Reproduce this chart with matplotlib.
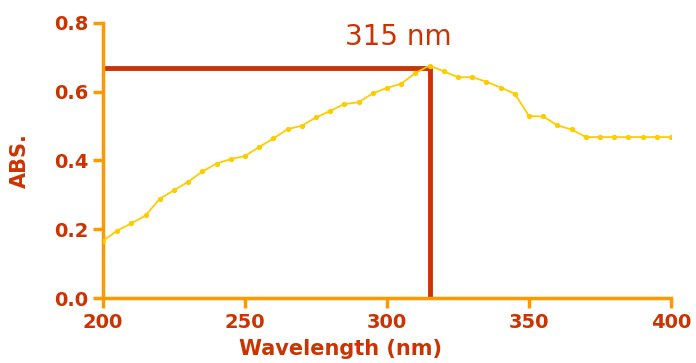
import numpy as np
import matplotlib
matplotlib.use("Agg")
import matplotlib.pyplot as plt

# absorbance spectrum, 5 nm steps
wavelength = list(range(200, 401, 5))
absorbance = [0.166, 0.196, 0.217, 0.240, 0.289, 0.313, 0.338, 0.368, 0.391, 0.404,
              0.413, 0.439, 0.464, 0.491, 0.501, 0.525, 0.544, 0.564, 0.569, 0.595,
              0.611, 0.623, 0.654, 0.676, 0.659, 0.642, 0.642, 0.629, 0.612, 0.594,
              0.529, 0.528, 0.502, 0.490, 0.468, 0.468, 0.468, 0.468, 0.468, 0.468,
              0.468]

peak_x = 315
peak_y = 0.670
peak_label = "315 nm"

red = "#CC3300"
orange = "#FF9900"
gold = "#FFCC00"

fig = plt.figure(figsize=(6.96, 3.63), dpi=100)
ax = fig.add_axes([0.148, 0.179, 0.816, 0.758])

ax.plot(wavelength, absorbance, color=gold, lw=1.3, marker="o", ms=2.8, zorder=3)

# peak marker lines
ax.plot([200, peak_x], [peak_y, peak_y], color=red, lw=3.5, solid_capstyle="butt", zorder=2)
ax.plot([peak_x, peak_x], [0, peak_y], color=red, lw=3.5, solid_capstyle="butt", zorder=2)
ax.text(304.1, 0.759, peak_label, color=red, fontsize=20, ha="center", va="center")

ax.set_xlim(200, 400)
ax.set_ylim(0, 0.8)
ax.set_xticks([200, 250, 300, 350, 400])
ax.set_yticks([0.0, 0.2, 0.4, 0.6, 0.8])
ax.set_yticklabels(["0.0", "0.2", "0.4", "0.6", "0.8"])

for s in ["top", "right"]:
    ax.spines[s].set_visible(False)
for s in ["left", "bottom"]:
    ax.spines[s].set_color(orange)
    ax.spines[s].set_linewidth(2.5)

ax.tick_params(colors=orange, width=2.5, length=7, labelcolor=red, labelsize=14)
for lab in ax.get_xticklabels() + ax.get_yticklabels():
    lab.set_fontweight("bold")

ax.set_xlabel("Wavelength (nm)", color=red, fontsize=15, fontweight="bold")
ax.xaxis.set_label_coords(0.419, -0.150)
ax.set_ylabel("ABS.", color=red, fontsize=15, fontweight="bold")
ax.yaxis.set_label_coords(-0.128, 0.5)

fig.savefig("out.png", dpi=100)
